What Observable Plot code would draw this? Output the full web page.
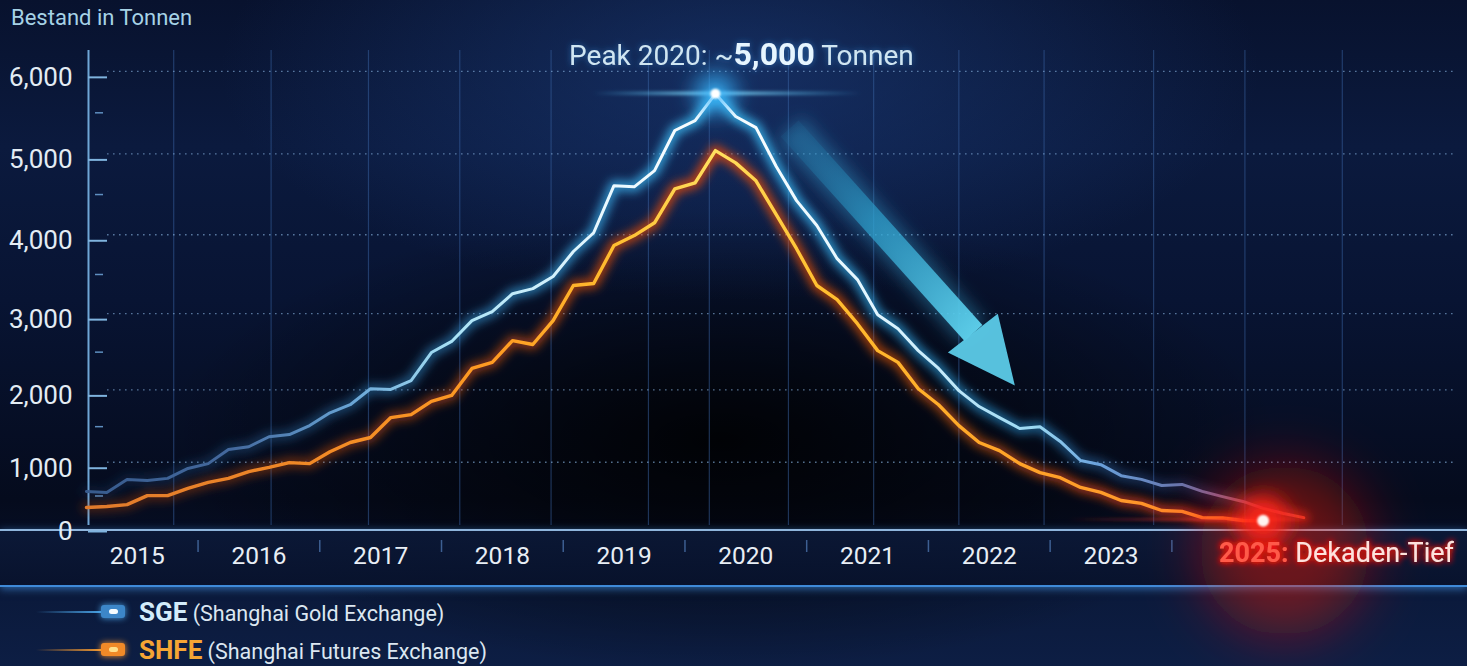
<!DOCTYPE html>
<html lang="de">
<head>
<meta charset="utf-8">
<script src="https://cdn.jsdelivr.net/npm/d3@7"></script>
<script src="https://cdn.jsdelivr.net/npm/@observablehq/plot@0.6"></script>
<style>
  html, body { margin:0; padding:0; width:1467px; height:666px; overflow:hidden; background:#070f26; }
  #wrap { position:relative; width:1467px; height:666px; overflow:hidden;
    background:
      radial-gradient(ellipse 520px 230px at 740px 70px, rgba(32,70,140,0.5), rgba(32,70,140,0) 100%),
      radial-gradient(ellipse 560px 230px at 720px 440px, rgba(0,0,0,0.85), rgba(0,0,0,0) 100%),
      linear-gradient(to bottom, #08122e 0%, #0b1a3e 22%, #081433 45%, #050b1d 75%, #060d22 79%, #0b1a3c 90%, #0d1e44 100%);
  }
  #title { position:absolute; left:11px; top:5px; font: 22px Roboto, "Noto Sans", sans-serif; color:#a6d2e6; }
  #band { position:absolute; left:0; top:529px; width:1467px; height:54px;
    background: linear-gradient(to bottom, rgba(12,26,58,0.85), rgba(8,18,44,0.9));
    border-top: 2px solid #8fb5dc; border-bottom: 2px solid #3f8ad8; box-shadow: 0 2px 8px rgba(63,138,216,0.7); }
  #chart { position:absolute; left:0; top:0; }
  .row { position:absolute; left:0; width:700px; height:28px; font-family: Roboto, "Noto Sans", sans-serif; }
  .lline { position:absolute; left:36px; top:13px; width:66px; height:2px; }
  .mk { position:absolute; left:101px; top:7px; width:24px; height:13px; border-radius:3px; }
  .mk i { position:absolute; left:8px; top:4px; width:9px; height:5px; border-radius:3px; }
  .txt { position:absolute; left:139px; top:0; line-height:28px; white-space:nowrap; }
  .txt b { font-size:26px; font-weight:700; }
  .txt span { font-size:21.5px; color:#dce7f1; }
</style>
</head>
<body>
<div id="wrap">
  <div id="band"></div>
  <div id="chart"></div>
  <div id="title"></div>
  <div class="row" style="top:598px">
    <div class="lline" style="background:linear-gradient(to right, rgba(70,150,220,0), #4aa3e6)"></div>
    <div class="mk" style="background:#3c86c8;box-shadow:0 0 6px #4aa3e6"><i style="background:#f4fbff"></i></div>
    <div class="txt"><b id="l1n" style="color:#d3ecfa"></b><span id="l1d"></span></div>
  </div>
  <div class="row" style="top:636px">
    <div class="lline" style="background:linear-gradient(to right, rgba(240,140,40,0), #f59a30)"></div>
    <div class="mk" style="background:#f08a28;box-shadow:0 0 6px #ff9a30"><i style="background:#ffe08a"></i></div>
    <div class="txt"><b id="l2n" style="color:#f5a534"></b><span id="l2d"></span></div>
  </div>
</div>
<script>
// ---------------- data ----------------
const months = ["2014-08","2014-10","2014-12","2015-02","2015-04","2015-06","2015-08","2015-10","2015-12",
  "2016-02","2016-04","2016-06","2016-08","2016-10","2016-12","2017-02","2017-04","2017-06","2017-08","2017-10","2017-12",
  "2018-02","2018-04","2018-06","2018-08","2018-10","2018-12","2019-02","2019-04","2019-06","2019-08","2019-10","2019-12",
  "2020-02","2020-04","2020-06","2020-08","2020-10","2020-12","2021-02","2021-04","2021-06","2021-08","2021-10","2021-12",
  "2022-02","2022-04","2022-06","2022-08","2022-10","2022-12","2023-02","2023-04","2023-06","2023-08","2023-10","2023-12",
  "2024-02","2024-04","2024-06","2024-08"];
const sge = [570,555,750,735,765,910,980,1180,1220,1360,1390,1515,1690,1800,2015,2005,2125,2495,2640,2910,3025,
  3255,3320,3475,3790,4025,4610,4595,4795,5285,5405,5730,5455,5320,4845,4425,4115,3700,3435,2985,2805,2520,2285,
  1990,1775,1625,1475,1500,1295,1025,965,805,750,660,675,570,490,415,305,220,150];
const shfe = [320,335,365,505,505,615,705,765,865,925,995,980,1150,1280,1350,1625,1665,1845,1925,2285,2365,
  2650,2600,2910,3360,3385,3865,3990,4150,4570,4645,5040,4890,4670,4250,3825,3360,3180,2870,2520,2365,2015,1800,
  1515,1280,1165,980,850,775,630,555,430,385,270,255,150,145,100,95];
const seriesNames = ["SGE", "SHFE"];
const seriesLong = ["(Shanghai Gold Exchange)", "(Shanghai Futures Exchange)"];
const yTicks = [0,1000,2000,3000,4000,5000,6000];
const yMinorTicks = [500,1500,2500,3500,4500,5500];
const yearTicks = [2015,2016,2017,2018,2019,2020,2021,2022,2023];
const yearSeparators = [2015.5,2016.5,2017.5,2018.5,2019.5,2020.5,2021.5,2022.5,2023.5];
const gridYears = [2015.3,2016.1,2016.9,2017.65,2018.4,2019.2,2019.7,2020.35,2021.05,2021.75,2022.45,2023.35,2024.1,2024.9];
const xDomain = [2014.6, 2025.83];
const yDomain = [0, 6250];
const titleText = "Bestand in Tonnen";
const peakLabelParts = ["Peak 2020: ~", "5,000", " Tonnen"];
const lowLabel = {year: 2025, parts: ["2025:", " Dekaden-Tief"]};
// trend arrow annotation (data space)
const arrowShaft = [{x1: 2020.36, y1: 5310, x2: 2021.87, y2: 2750}];
const arrowHead = [{x: 2021.66, y: 2495}, {x: 2022.21, y: 2057}, {x: 2022.07, y: 3000}];

// ---------------- build ----------------
const toYear = s => { const [y, m] = s.split("-").map(Number); return y + (m - 1) / 12; };
const sgeData = sge.map((v, i) => ({x: toYear(months[i]), v}));
const shfeData = shfe.map((v, i) => ({x: toYear(months[i]), v}));
const peak = d3.greatest(sgeData, d => d.v);
const low = shfeData[shfeData.length - 1];

document.getElementById("title").textContent = titleText;
document.getElementById("l1n").textContent = seriesNames[0];
document.getElementById("l1d").textContent = " " + seriesLong[0];
document.getElementById("l2n").textContent = seriesNames[1];
document.getElementById("l2d").textContent = " " + seriesLong[1];

const font = "Roboto, 'Noto Sans', sans-serif";
const fmt = d3.format(",");
const svg = Plot.plot({
  width: 1467, height: 600,
  marginLeft: 88, marginRight: 12, marginTop: 50, marginBottom: 75,
  style: {background: "transparent", fontFamily: font, overflow: "visible"},
  x: {type: "linear", domain: xDomain},
  y: {type: "pow", exponent: 1.1, domain: yDomain},
  marks: [
    Plot.ruleX(gridYears, {y1: yDomain[0], y2: yDomain[1], stroke: "#3a64a4", strokeOpacity: 0.5, strokeWidth: 1.2}),
    Plot.ruleY(yTicks.filter(v => v > 0), {x1: xDomain[0], x2: xDomain[1], insetLeft: 19, stroke: "#8ab6e2", strokeOpacity: 0.6, strokeDasharray: "1.6,4.4", strokeWidth: 1.4}),
    Plot.ruleX([xDomain[0]], {y1: yDomain[0], y2: yDomain[1], stroke: "#6fa6d6", strokeWidth: 2}),
    Plot.axisY({ticks: yTicks, tickSize: -19, tickPadding: 35, tickFormat: d => fmt(d), stroke: "#7fb3de", strokeWidth: 2,
      fill: "#e3ecf4", fontSize: 26, dy: 6, label: null}),
    Plot.axisY({ticks: yMinorTicks, tickSize: -8, dx: 7, text: null, stroke: "#5f8fc0", strokeWidth: 1.5, label: null}),
    Plot.axisX({ticks: yearTicks, tickFormat: d => String(d), tickSize: 0, tickPadding: 21, fill: "#e8eef5", fontSize: 24.5, label: null}),
    Plot.axisX({ticks: yearSeparators, tickSize: 12, dy: 15, text: null, stroke: "#3d5f92", strokeWidth: 1.5, label: null}),
    // trend arrow
    Plot.link(arrowShaft, {x1: "x1", y1: "y1", x2: "x2", y2: "y2", stroke: "#3fb8e8", strokeWidth: 34, strokeOpacity: 0.35, ariaDescription: "arrow-glow"}),
    Plot.link(arrowShaft, {x1: "x1", y1: "y1", x2: "x2", y2: "y2", stroke: "url(#arrowGrad)", strokeWidth: 24, strokeLinecap: "butt", ariaDescription: "arrow-shaft"}),
    Plot.line(arrowHead, {x: "x", y: "y", fill: "#5ccbe8", stroke: "none", fillOpacity: 0.95, ariaDescription: "arrow-head"}),
    // SHFE
    Plot.line(shfeData, {x: "x", y: "v", stroke: "url(#shfeGlowGrad)", strokeWidth: 11, ariaDescription: "shfe-glow"}),
    Plot.line(shfeData, {x: "x", y: "v", stroke: "url(#shfeGrad)", strokeWidth: 3.4, ariaDescription: "shfe-line"}),
    // SGE
    Plot.line(sgeData, {x: "x", y: "v", stroke: "url(#sgeGlowGrad)", strokeWidth: 11, ariaDescription: "sge-glow"}),
    Plot.line(sgeData, {x: "x", y: "v", stroke: "url(#sgeGrad)", strokeWidth: 3, ariaDescription: "sge-line"}),
    // peak highlight
    Plot.rect([peak], {x1: d => d.x - 1.0, x2: d => d.x + 1.2, y1: d => d.v - 22, y2: d => d.v + 22, fill: "url(#streakBlue)", ariaDescription: "peak-streak"}),
    Plot.dot([peak], {x: "x", y: "v", r: 22, fill: "#36b6ff", fillOpacity: 0.7, ariaDescription: "peak-halo"}),
    Plot.dot([peak], {x: "x", y: "v", r: 5, fill: "#ffffff", ariaDescription: "peak-dot"}),
    Plot.text([peak], {x: "x", y: "v", text: () => peakLabelParts.join(""), dx: 26, dy: -38, fontSize: 28, fill: "#cfe6f2", ariaDescription: "peak-label"}),
    // decade low highlight
    Plot.dot([lowLabel], {x: "year", frameAnchor: "bottom", dx: -70, dy: 25, r: 85, fill: "#ff1a10", fillOpacity: 0.4, ariaDescription: "low-haze"}),
    Plot.rect([low], {x1: d => d.x - 1.6, x2: d => d.x + 0.4, y1: d => d.v - 12, y2: d => d.v + 40, fill: "url(#streakRed)", ariaDescription: "low-streak"}),
    Plot.dot([low], {x: "x", y: "v", r: 26, fill: "#ff2218", fillOpacity: 0.9, ariaDescription: "low-halo"}),
    Plot.dot([low], {x: "x", y: "v", r: 6, fill: "#fff4f0", ariaDescription: "low-dot"}),
    Plot.text([lowLabel], {x: "year", frameAnchor: "bottom", text: d => d.parts.join(""), dx: -18, dy: 36, fontSize: 27, fill: "#ffe2dc", ariaDescription: "low-label"})
  ]
});
document.getElementById("chart").appendChild(svg);

const s = d3.select(svg);
s.insert("defs", ":first-child").html(`
  <linearGradient id="sgeGrad" x1="0" y1="0" x2="1" y2="0">
    <stop offset="0" stop-color="#375a8c"/><stop offset="0.12" stop-color="#44699e"/>
    <stop offset="0.22" stop-color="#6aa6d6"/><stop offset="0.3" stop-color="#a8e2f6"/>
    <stop offset="0.42" stop-color="#e6f8ff"/><stop offset="0.52" stop-color="#ffffff"/>
    <stop offset="0.65" stop-color="#e0f6ff"/><stop offset="0.78" stop-color="#9ad8f2"/>
    <stop offset="0.83" stop-color="#6aa2dc"/><stop offset="0.9" stop-color="#6675ad"/>
    <stop offset="0.95" stop-color="#9a5a80"/><stop offset="1" stop-color="#e0483a"/>
  </linearGradient>
  <linearGradient id="sgeGlowGrad" x1="0" y1="0" x2="1" y2="0">
    <stop offset="0" stop-color="#2d5fa0" stop-opacity="0.15"/><stop offset="0.3" stop-color="#41b6ff" stop-opacity="0.45"/>
    <stop offset="0.52" stop-color="#3fc8ff" stop-opacity="0.8"/><stop offset="0.78" stop-color="#2fa8f0" stop-opacity="0.5"/>
    <stop offset="0.9" stop-color="#4a5fb0" stop-opacity="0.25"/><stop offset="1" stop-color="#ff3020" stop-opacity="0.6"/>
  </linearGradient>
  <linearGradient id="shfeGrad" x1="0" y1="0" x2="1" y2="0">
    <stop offset="0" stop-color="#e07a2c"/><stop offset="0.2" stop-color="#f28a26"/>
    <stop offset="0.35" stop-color="#ff9c22"/><stop offset="0.45" stop-color="#ffbe30"/>
    <stop offset="0.535" stop-color="#ffe060"/><stop offset="0.62" stop-color="#ffc030"/>
    <stop offset="0.75" stop-color="#ffa828"/><stop offset="0.88" stop-color="#ff9a2a"/>
    <stop offset="1" stop-color="#ff6a24"/>
  </linearGradient>
  <linearGradient id="shfeGlowGrad" x1="0" y1="0" x2="1" y2="0">
    <stop offset="0" stop-color="#d04a10" stop-opacity="0.3"/><stop offset="0.35" stop-color="#ff6010" stop-opacity="0.5"/>
    <stop offset="0.53" stop-color="#ff4a00" stop-opacity="0.75"/><stop offset="0.75" stop-color="#ff6a10" stop-opacity="0.5"/>
    <stop offset="1" stop-color="#ff2a10" stop-opacity="0.7"/>
  </linearGradient>
  <linearGradient id="arrowGrad" x1="0" y1="0" x2="1" y2="1">
    <stop offset="0" stop-color="#1f6f9e" stop-opacity="0.15"/><stop offset="0.45" stop-color="#2ea3d0" stop-opacity="0.65"/>
    <stop offset="1" stop-color="#5fd3ef" stop-opacity="0.95"/>
  </linearGradient>
  <linearGradient id="streakBlue" x1="0" y1="0" x2="1" y2="0">
    <stop offset="0" stop-color="#4fc8ff" stop-opacity="0"/><stop offset="0.45" stop-color="#8fe0ff" stop-opacity="0.9"/>
    <stop offset="1" stop-color="#4fc8ff" stop-opacity="0"/>
  </linearGradient>
  <linearGradient id="streakRed" x1="0" y1="0" x2="1" y2="0">
    <stop offset="0" stop-color="#ff3020" stop-opacity="0"/><stop offset="0.8" stop-color="#ff4030" stop-opacity="0.8"/>
    <stop offset="1" stop-color="#ff3020" stop-opacity="0"/>
  </linearGradient>
  <filter id="blur5" x="-10%" y="-20%" width="120%" height="140%"><feGaussianBlur stdDeviation="5"/></filter>
  <filter id="blur2" x="-10%" y="-200%" width="120%" height="500%"><feGaussianBlur stdDeviation="1.5"/></filter>
  <filter id="blur10" x="-150%" y="-150%" width="400%" height="400%"><feGaussianBlur stdDeviation="10"/></filter>
  <filter id="blur28" x="-150%" y="-150%" width="400%" height="400%"><feGaussianBlur stdDeviation="28"/></filter>
  <filter id="blur1" x="-100%" y="-100%" width="300%" height="300%"><feGaussianBlur stdDeviation="1.2"/></filter>
  <filter id="blurArrow" x="-30%" y="-30%" width="160%" height="160%"><feGaussianBlur stdDeviation="8"/></filter>
  <filter id="redGlow" x="-20%" y="-60%" width="140%" height="220%">
    <feGaussianBlur in="SourceAlpha" stdDeviation="3" result="b"/>
    <feFlood flood-color="#ff1a10" flood-opacity="1"/>
    <feComposite in2="b" operator="in" result="g"/>
    <feMerge><feMergeNode in="g"/><feMergeNode in="g"/><feMergeNode in="SourceGraphic"/></feMerge>
  </filter>
  <filter id="blueTextGlow" x="-10%" y="-50%" width="120%" height="200%">
    <feGaussianBlur in="SourceAlpha" stdDeviation="3" result="b"/>
    <feFlood flood-color="#3aa8ff" flood-opacity="0.5"/>
    <feComposite in2="b" operator="in" result="g"/>
    <feMerge><feMergeNode in="g"/><feMergeNode in="SourceGraphic"/></feMerge>
  </filter>
`);
const f = (label, id) => s.selectAll(`g[aria-description="${label}"]`).attr("filter", `url(#${id})`);
f("sge-glow", "blur5"); f("shfe-glow", "blur5");
f("arrow-glow", "blurArrow");
f("peak-halo", "blur10"); f("peak-streak", "blur2"); f("peak-dot", "blur1");
f("low-haze", "blur28"); f("low-halo", "blur10"); f("low-streak", "blur2"); f("low-dot", "blur1");
f("low-label", "redGlow"); f("peak-label", "blueTextGlow");

s.selectAll('g[aria-description="peak-label"] text').each(function() {
  const t = d3.select(this); t.text(null);
  t.append("tspan").text(peakLabelParts[0]);
  t.append("tspan").attr("font-weight", 700).attr("font-size", 32).attr("fill", "#e6f6ff").text(peakLabelParts[1]);
  t.append("tspan").text(peakLabelParts[2]);
});
s.selectAll('g[aria-description="low-label"] text').each(function() {
  const t = d3.select(this); t.text(null);
  t.append("tspan").attr("font-weight", 700).attr("fill", "#ff5a48").text(lowLabel.parts[0]);
  t.append("tspan").text(lowLabel.parts[1]);
});
</script>
</body>
</html>
